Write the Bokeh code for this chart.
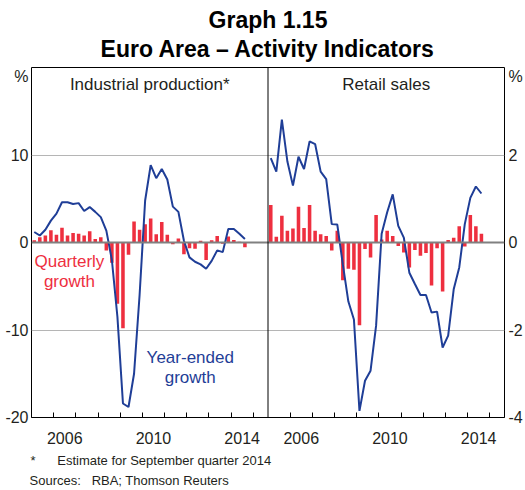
import pandas as pd
from bokeh.plotting import figure
from bokeh.models import (Range1d, FixedTicker, Label, Span, LinearAxis, Grid,
                          ColumnDataSource, Title)
from bokeh.embed import file_html
from bokeh.resources import INLINE

# ---------------- data ----------------
quarters = pd.period_range("2005Q1", "2014Q3", freq="Q")

ip_quarterly = [0.25, 0.6, 0.8, 1.4, 0.9, 1.7, 0.8, 1.1, 1.0, 0.8, 1.3, 0.4, 0.6,
                -0.9, -2.3, -7.0, -9.8, -1.4, 2.4, 1.45, 2.1, 2.75, 0.95, 2.35, 0.9,
                -0.2, 0.45, -1.35, -0.65, -0.7, 0.2, -2.0, 0.25, 0.75, -0.15, 0.7,
                0.3, 0.1, -0.55]
ip_year_ended = [1.2, 0.8, 1.45, 2.5, 3.3, 4.6, 4.6, 4.4, 4.5, 3.6, 4.05, 3.5, 2.9,
                 1.35, -2.0, -8.5, -18.4, -18.8, -15.0, -6.0, 4.8, 8.85, 7.35, 8.4,
                 7.2, 4.1, 3.5, 0.2, -1.7, -2.2, -2.5, -3.0, -2.1, -0.9, -1.1, 1.55,
                 1.55, 1.0, 0.4]
rs_quarterly = [0.86, 0.13, 0.61, 0.27, 0.32, 0.82, 0.33, 0.86, 0.27, 0.19, 0.15,
                -0.18, 0.27, -0.86, -0.6, -0.62, -1.89, -0.15, -0.34, 0.63, 0.07,
                0.27, 0.15, -0.08, -0.23, -0.57, -0.17, -0.3, -0.24, -0.98, -0.13,
                -1.12, 0.06, 0.11, 0.37, -0.09, 0.63, 0.37, 0.2]
rs_year_ended = [1.93, 1.62, 2.81, 1.85, 1.3, 1.96, 1.68, 2.31, 2.25, 1.62, 1.45,
                 0.42, 0.41, -0.5, -1.35, -1.76, -3.85, -3.16, -2.93, -1.9, 0.2,
                 0.69, 1.1, 0.38, 0.11, -0.69, -0.95, -1.2, -1.2, -1.6, -1.58, -2.4,
                 -2.13, -1.07, -0.57, 0.42, 1.02, 1.28, 1.12]

year_labels = [2006, 2010, 2014]
year_ticks = list(range(2006, 2016))
ip_ticks = [-20, -10, 0, 10]
rs_ticks = [-4, -2, 0, 2]
grid_ticks = [-10, 10]          # same heights as -2 / 2 on the right-hand scale
unit_label = "%"
panel_names = ["Industrial production*", "Retail sales"]

x_quarter = list(quarters.year + (quarters.quarter - 0.5) / 4.0)

# ---------------- style / geometry ----------------
FONT = "Liberation Sans"
RED = "#EE2F3F"
BLUE = "#1F3E97"
TXT = "#231F20"
W, H = 525, 490
LEFT_B, RIGHT_B = 31, 20
TOP_B, BOTTOM_B = 67, 73
NOMINAL_FRAME_H = H - TOP_B - BOTTOM_B
X0, X1 = 2005.0, 2015.666         # time span of one panel
SPAN = X1 - X0

p = figure(width=W, height=H, x_range=Range1d(X0, X0 + 2 * SPAN), y_range=Range1d(-20, 20),
           output_backend="svg", toolbar_location=None, x_axis_type=None, y_axis_type=None,
           min_border_left=LEFT_B, min_border_right=RIGHT_B,
           min_border_top=TOP_B, min_border_bottom=BOTTOM_B)
p.extra_x_ranges = {"rs": Range1d(X0 - SPAN, X1)}
p.extra_y_ranges = {"rsy": Range1d(-4, 4)}
p.outline_line_color = "black"
p.outline_line_width = 1
p.background_fill_color = "white"
p.border_fill_color = "white"

p.add_layout(Grid(dimension=1, ticker=FixedTicker(ticks=grid_ticks),
                  grid_line_color="#B5B5B5", grid_line_width=1))

ip_src = ColumnDataSource(dict(x=x_quarter, q=ip_quarterly, y=ip_year_ended))
rs_src = ColumnDataSource(dict(x=x_quarter, q=rs_quarterly, y=rs_year_ended))

p.vbar(x="x", top="q", bottom=0, width=0.16, source=ip_src, fill_color=RED, line_color=None)
p.vbar(x="x", top="q", bottom=0, width=0.16, source=rs_src, fill_color=RED, line_color=None,
       x_range_name="rs", y_range_name="rsy")
p.add_layout(Span(location=0, dimension="width", line_color="#808080", line_width=2))
p.line(x="x", y="y", source=ip_src, line_color=BLUE, line_width=2)
p.line(x="x", y="y", source=rs_src, line_color=BLUE, line_width=2,
       x_range_name="rs", y_range_name="rsy")
p.add_layout(Span(location=X1, dimension="height", line_color="black", line_width=1))

# ---- x axis (one axis carrying both panels' years) ----
major = [yr + 0.5 for yr in year_labels] + [yr + 0.5 + SPAN for yr in year_labels]
minor = list(year_ticks) + [yr + SPAN for yr in year_ticks]
xa = LinearAxis(ticker=FixedTicker(ticks=major, minor_ticks=minor))
xa.major_label_overrides = {t: str(yr) for t, yr in zip(major, year_labels * 2)}
xa.major_tick_line_color = None
xa.minor_tick_in = 5
xa.minor_tick_out = 0
xa.minor_tick_line_color = "black"
xa.axis_line_color = "black"
xa.major_label_standoff = 8
xa.major_label_text_font = FONT
xa.major_label_text_font_size = "16px"
xa.major_label_text_color = TXT
p.add_layout(xa, "below")


def y_axis(ticks, lo, hi, range_name=None, standoff=3):
    pct_pos = hi - (hi - lo) * 9.0 / NOMINAL_FRAME_H
    kw = {} if range_name is None else {"y_range_name": range_name}
    ya = LinearAxis(ticker=FixedTicker(ticks=ticks + [pct_pos]), **kw)
    ov = {t: str(t) for t in ticks}
    ov[pct_pos] = unit_label
    ya.major_label_overrides = ov
    ya.major_tick_line_color = None
    ya.minor_tick_line_color = None
    ya.axis_line_color = None
    ya.major_tick_in = 0
    ya.major_tick_out = 0
    ya.major_label_standoff = standoff
    ya.major_label_text_font = FONT
    ya.major_label_text_font_size = "16px"
    ya.major_label_text_color = TXT
    return ya


p.add_layout(y_axis(ip_ticks, -20, 20), "left")
p.add_layout(y_axis(rs_ticks, -4, 4, "rsy", standoff=4), "right")

# ---- panel names ----
name_y = 20 - 40 * 17.0 / NOMINAL_FRAME_H
for i, name in enumerate(panel_names):
    p.add_layout(Label(x=X0 + (i + 0.5) * SPAN, y=name_y, text=name,
                       text_align="center", text_baseline="middle",
                       text_font=FONT, text_font_size="17px", text_color=TXT))

# ---- series annotations ----
for txt, xx, yy, col in [("Quarterly", 2006.71, -2.2, RED), ("growth", 2006.71, -4.5, RED),
                         ("Year-ended", 2012.16, -13.1, BLUE), ("growth", 2012.16, -15.4, BLUE)]:
    p.add_layout(Label(x=xx, y=yy, text=txt, text_align="center", text_baseline="middle",
                       text_font=FONT, text_font_size="17px", text_color=col))

# ---- titles (above; first added sits closest to the frame) ----
p.add_layout(Title(text="Euro Area \u2013 Activity Indicators", align="center",
                   vertical_align="top", text_font=FONT, text_font_style="bold",
                   text_font_size="23px", text_color="black", standoff=6.8), "above")
p.add_layout(Title(text="Graph 1.15", align="center", vertical_align="bottom",
                   text_font=FONT, text_font_style="bold", text_font_size="23px",
                   text_color="black", standoff=0), "above")

# ---- footnotes (below; first added sits closest to the axis) ----
NB = "\u00a0"
p.add_layout(Title(text="*" + NB * 6 + "Estimate for September quarter 2014", align="left",
                   vertical_align="bottom", offset=-1, text_font=FONT,
                   text_font_style="normal", text_font_size="13px",
                   text_color=TXT, standoff=8.8), "below")
p.add_layout(Title(text="Sources:" + NB * 3 + "RBA; Thomson Reuters", align="left",
                   vertical_align="top", offset=-2, text_font=FONT,
                   text_font_style="normal", text_font_size="13px",
                   text_color=TXT, standoff=0), "below")

open("out.html", "w").write(file_html(p, INLINE))
